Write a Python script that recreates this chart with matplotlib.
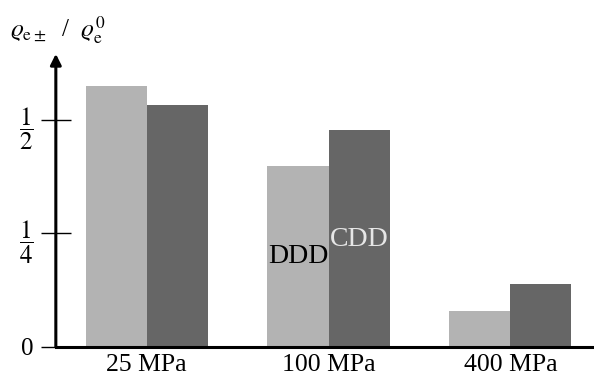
import numpy as np
import matplotlib
matplotlib.use('Agg')
import matplotlib.pyplot as plt

plt.rcParams['font.family'] = ['Liberation Serif', 'DejaVu Serif']
plt.rcParams['mathtext.fontset'] = 'stix'

# data
stresses = ['25 MPa', '100 MPa', '400 MPa']
ddd = [0.575, 0.399, 0.079]
cdd = [0.533, 0.478, 0.139]
ytick_vals = [0, 0.25, 0.5]
ytick_labels = ['0', r'$\dfrac{1}{4}$', r'$\dfrac{1}{2}$']


def plot_bars():
    fig = plt.figure(figsize=(5.94, 3.82), dpi=100)
    ax = fig.add_axes([0.094, 0.092, 0.906, 0.767])
    x = np.arange(len(stresses))
    w = 0.336
    ax.bar(x - w / 2, ddd, w, color='#b3b3b3')
    ax.bar(x + w / 2, cdd, w, color='#666666')

    ax.set_xlim(-0.5, 2.46)
    ax.set_ylim(0, 0.645)
    for s in ['top', 'right', 'left']:
        ax.spines[s].set_visible(False)
    ax.spines['bottom'].set_linewidth(2.2)
    # y axis with arrow
    ax.annotate('', xy=(0, 1.0), xytext=(0, 0), xycoords='axes fraction',
                arrowprops=dict(arrowstyle='-|>', lw=2.2, color='black',
                                mutation_scale=16, shrinkA=0, shrinkB=0))

    ax.set_xticks(x)
    ax.set_xticklabels(stresses, fontsize=18.5)
    ax.tick_params(axis='x', length=0, pad=5)
    ax.set_yticks(ytick_vals)
    ax.set_yticklabels(ytick_labels, fontsize=18)
    ax.tick_params(axis='y', direction='inout', length=22, width=1.0, pad=5)

    ax.text(1 - w / 2, 0.198, 'DDD', ha='center', va='center', fontsize=20,
            color='black')
    ax.text(1 + w / 2, 0.236, 'CDD', ha='center', va='center', fontsize=20,
            color='#e6e6e6')

    fig.text(0.017, 0.92, r'$\varrho_{\mathrm{e}\pm}$  /  $\varrho_{\mathrm{e}}^{0}$',
             fontsize=18, ha='left', va='center')

    fig.savefig('out.png', dpi=100)


if __name__ == "__main__":
    plot_bars()
